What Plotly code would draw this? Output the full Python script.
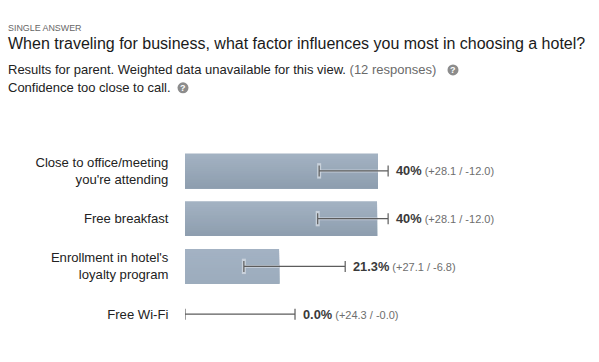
import plotly.graph_objects as go

categories = ["Close to office/meeting<br>you're attending", "Free breakfast",
              "Enrollment in hotel's<br>loyalty program", "Free Wi-Fi"]
positions = [0, 1, 2, 3]
# drawn lengths (the picture's bar scale)
bar_values = [40.0, 39.8, 19.5, 0.0]
err_low_ends = [27.8, 27.5, 12.2, 0.0]
err_high_ends = [42.1, 42.1, 33.2, 22.8]
value_labels = ["40%", "40%", "21.3%", "0.0%"]
range_labels = ["(+28.1 / -12.0)", "(+28.1 / -12.0)", "(+27.1 / -6.8)", "(+24.3 / -0.0)"]
kicker = "SINGLE ANSWER"
title = "When traveling for business, what factor influences you most in choosing a hotel?"
note_main = "Results for parent. Weighted data unavailable for this view. "
note_count = "(12 responses)"
note_conf = "Confidence too close to call."

FONT = "Liberation Sans, Arial, sans-serif"
W, H = 599, 362
L, T, B = 185, 146.5, 23.5
PX = 4.825

tops = [(163, 178, 194), (163, 178, 194), (163, 178, 195), (163, 178, 194)]
bots = [(142, 158, 175), (142, 158, 175), (156, 172, 189), (142, 158, 175)]
BAR_H = 35 / 48
N = 18

def mix(a, b, t):
    return "rgb(%d,%d,%d)" % tuple(round(a[i] + (b[i] - a[i]) * t) for i in range(3))

fig = go.Figure()
for k in range(N):
    t = k / (N - 1)
    fig.add_trace(go.Bar(
        x=bar_values, y=positions, orientation="h",
        offset=-BAR_H / 2 + k * BAR_H / N, width=BAR_H * (1 - k / N),
        marker=dict(color=[mix(tops[i], bots[i], t) for i in range(4)], line=dict(width=0)),
        hoverinfo="skip", showlegend=False))

mid = [(a + b) / 2 for a, b in zip(err_low_ends, err_high_ends)]
half = [(b - a) / 2 for a, b in zip(err_low_ends, err_high_ends)]
# pale halo of the whisker, inside the bars only
fig.add_trace(go.Scatter(
    x=err_low_ends[:3], y=positions[:3], mode="markers",
    marker=dict(symbol="line-ns", size=11, line=dict(width=4, color="rgba(205,213,222,0.9)")),
    hoverinfo="skip", showlegend=False))
halo = [max(0, b - a) for a, b in zip(err_low_ends, bar_values)]
fig.add_trace(go.Scatter(
    x=err_low_ends, y=positions, mode="markers", marker=dict(size=0.1, color="rgba(0,0,0,0)"),
    error_x=dict(type="data", array=halo, symmetric=False, arrayminus=[0] * 4,
                 thickness=3, width=0, color="rgba(205,213,222,0.8)"),
    hoverinfo="skip", showlegend=False))
fig.add_trace(go.Scatter(
    x=mid, y=positions, mode="markers", marker=dict(size=0.1, color="rgba(0,0,0,0)"),
    error_x=dict(type="data", array=half, thickness=1.2, width=5.5, color="#5c5c5c"),
    hoverinfo="skip", showlegend=False))

ann = []
for i in range(4):
    ann.append(dict(
        x=err_high_ends[i], y=positions[i], xref="x", yref="y", xanchor="left", yanchor="middle",
        xshift=6, yshift=0, showarrow=False, align="left",
        text=f"<b><span style='font-size:12.8px;color:#3a3a3a'>{value_labels[i]}</span></b>"
             f"<span style='font-size:11px;color:#6e6e6e'> {range_labels[i]}</span>",
        font=dict(family=FONT)))

def px(x):
    return (x - L) / (W - L)

def py(y):
    return 1 - (y - T) / (H - T - B)

def page_text(x, y, text, size, color):
    return dict(x=px(x), y=py(y), xref="paper", yref="paper", xanchor="left", yanchor="middle",
                xshift=-1, showarrow=False, text=text,
                font=dict(family=FONT, size=size, color=color), align="left")

ann += [
    page_text(7, 27, kicker, 8.9, "#666666"),
    page_text(7, 42, title, 16, "#1a1a1a"),
    page_text(7, 69, note_main + f"<span style='color:#6a6a6a'>{note_count}</span>", 13, "#222222"),
    page_text(7, 87, note_conf, 13, "#222222"),
]

shapes = []
for cx, cy in [(453, 69), (183, 87)]:
    shapes.append(dict(type="circle", xref="paper", yref="paper",
                       x0=px(cx - 5.5), x1=px(cx + 5.5),
                       y0=py(cy + 5.5), y1=py(cy - 5.5),
                       fillcolor="#8c8c8c", line=dict(width=0)))
    ann.append(dict(x=px(cx), y=py(cy), xref="paper", yref="paper", showarrow=False,
                    xanchor="center", yanchor="middle", text="<b>?</b>",
                    font=dict(family=FONT, size=9, color="white")))

fig.update_layout(
    width=W, height=H, autosize=False,
    margin=dict(l=L, r=0, t=T, b=B, pad=0),
    paper_bgcolor="white", plot_bgcolor="white",
    barmode="overlay", showlegend=False,
    annotations=ann, shapes=shapes,
    xaxis=dict(range=[0, (W - L) / PX], visible=False, fixedrange=True),
    yaxis=dict(range=[3.5, -0.5], tickmode="array", tickvals=positions, ticktext=categories,
               ticks="outside", ticklen=13, tickcolor="rgba(0,0,0,0)", showgrid=False, zeroline=False,
               showline=False, fixedrange=True,
               tickfont=dict(family=FONT, size=13.1, color="#222222")),
)

fig.write_html("out.html", config={"displayModeBar": False, "responsive": False},
               post_script="document.body.style.margin='0';")
